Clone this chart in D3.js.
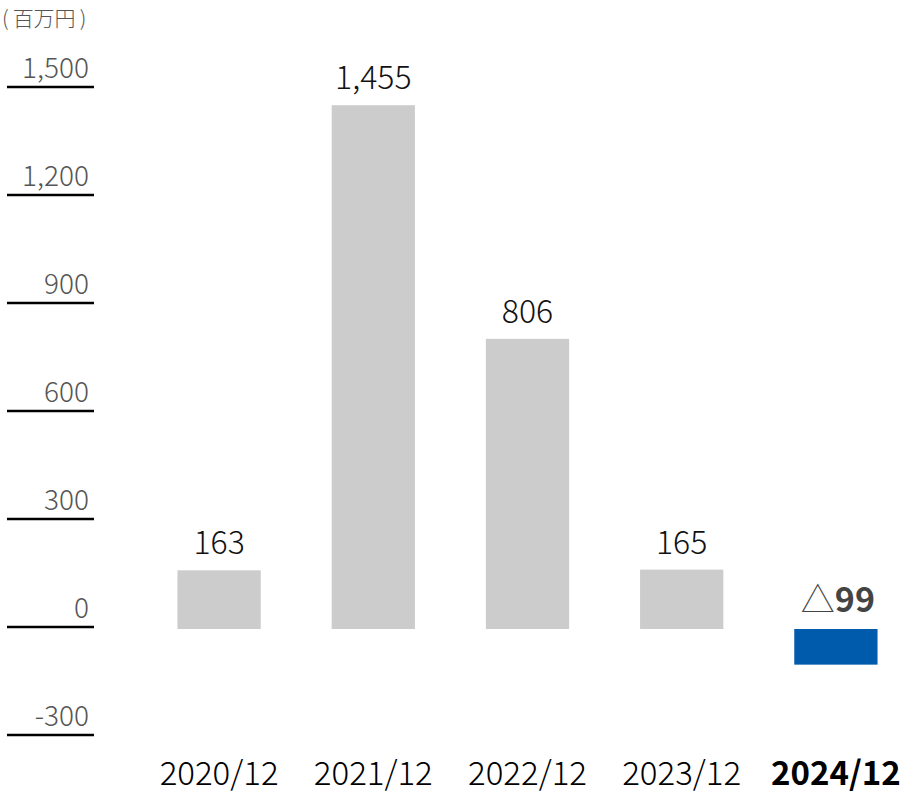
<!DOCTYPE html>
<html><head><meta charset="utf-8">
<script src="https://cdn.jsdelivr.net/npm/d3@7"></script>
<style>body{margin:0;background:#fff}svg{display:block}text{font-family:"Noto Sans CJK JP","Noto Sans",sans-serif}</style>
</head><body><svg id="c" width="900" height="792"></svg>
<script>
const categories = ["2020/12","2021/12","2022/12","2023/12","2024/12"];
const values = [163,1455,806,165,-99];
const valueLabels = ["163","1,455","806","165","99"];
const yTicks = [-300,0,300,600,900,1200,1500];
const yTickLabels = ["-300","0","300","600","900","1,200","1,500"];
const unitParts = ["(","百万円",")"];

const svg = d3.select("#c");
const y = d3.scaleLinear().domain([-300,1500]).range([735,87]);
const x = d3.scaleBand().domain(categories).range([142,913]).paddingInner(0.46).paddingOuter(0.23);

const u = svg.append("text").attr("x",2).attr("y",26).attr("font-size",21).attr("font-weight",300).attr("fill","#555");
u.append("tspan").text(unitParts[0]);
u.append("tspan").attr("dx",4).text(unitParts[1]);
u.append("tspan").attr("dx",4).text(unitParts[2]);

const g = svg.append("g");
g.selectAll("line.t").data(yTicks).join("line").attr("class","t")
  .attr("x1",7).attr("x2",94).attr("y1",d=>y(d)).attr("y2",d=>y(d))
  .attr("stroke","#000").attr("stroke-width",2.5);
g.selectAll("text.t").data(yTicks).join("text").attr("class","t")
  .attr("x",89).attr("y",d=>y(d)-9).attr("text-anchor","end")
  .attr("font-size",28).attr("font-weight",300).attr("fill","#555").text((d,i)=>yTickLabels[i]);

const data = categories.map((c,i)=>({c,v:values[i],l:valueLabels[i],last:i===categories.length-1}));
svg.append("g").attr("transform","translate(0,2)")
  .selectAll("rect.b").data(data).join("rect").attr("class","b")
  .attr("x",d=>x(d.c)).attr("width",x.bandwidth())
  .attr("y",d=>y(Math.max(0,d.v))).attr("height",d=>Math.abs(y(d.v)-y(0)))
  .attr("fill",d=>d.last?"#005BAC":"#CCCCCC");

svg.selectAll("text.v").data(data).join("text").attr("class","v")
  .attr("x",d=>x(d.c)+x.bandwidth()/2+(d.last?2:0))
  .attr("y",d=>d.v>=0 ? y(d.v)-14 : y(0)-15)
  .attr("text-anchor","middle").attr("font-size",d=>d.last?34:32)
  .attr("font-weight",300)
  .attr("fill",d=>d.last?"#444":"#111")
  .each(function(d){
    const t=d3.select(this);
    if(d.last){
      t.append("tspan").attr("font-weight",300).text("△");
      t.append("tspan").attr("font-weight","bold").text(d.l);
    } else t.text(d.l);
  });

svg.selectAll("text.x").data(data).join("text").attr("class","x")
  .attr("x",d=>x(d.c)+x.bandwidth()/2).attr("y",785)
  .attr("text-anchor","middle").attr("font-size",33)
  .attr("font-weight",d=>d.last?"bold":300).attr("fill","#000")
  .text(d=>d.c);
</script></body></html>
